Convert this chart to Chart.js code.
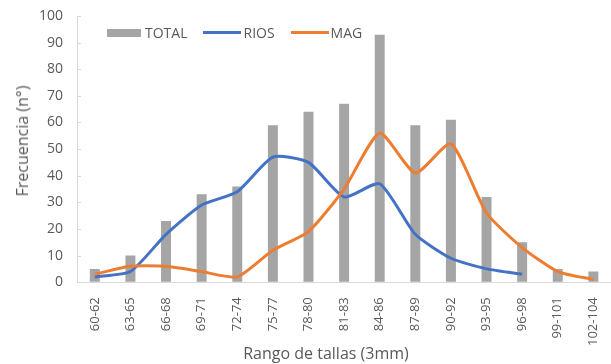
<!DOCTYPE html>
<html>
<head>
<meta charset="utf-8">
<script src="https://cdn.jsdelivr.net/npm/chart.js@4/dist/chart.umd.min.js"></script>
<style>
html,body{margin:0;padding:0;background:#fff;overflow:hidden;width:611px;height:364px;}
#wrap{position:relative;width:624px;height:364px;font-family:"Open Sans",sans-serif;color:#595959;}
#legend{position:absolute;left:107px;top:23px;font-size:14px;display:flex;align-items:center;white-space:nowrap;}
.item{display:flex;align-items:center;margin-right:16px;}
.sw{display:inline-block;width:38px;margin-right:2px;}
#xtitle{position:absolute;left:326px;top:353px;transform:translate(-50%,-50%);font-size:16px;white-space:nowrap;}
#ytitle{position:absolute;left:22px;top:141px;transform:translate(-50%,-50%) rotate(-90deg);font-size:16px;white-space:nowrap;}
</style>
</head>
<body>
<div id="wrap">
<canvas id="c" width="624" height="364"></canvas>
<div id="legend">
  <span class="item"><span class="sw" style="width:34px;margin-right:4px;height:8px;background:#a5a5a5"></span>TOTAL</span>
  <span class="item"><span class="sw" style="height:3px;background:#4472c4"></span>RIOS</span>
  <span class="item"><span class="sw" style="height:3px;background:#ed7d31"></span>MAG</span>
</div>
<div id="xtitle">Rango de tallas (3mm)</div>
<div id="ytitle">Frecuencia (n°)</div>
</div>
<script>
const categories = ["60-62","63-65","66-68","69-71","72-74","75-77","78-80","81-83","84-86","87-89","90-92","93-95","96-98","99-101","102-104"];
const totalValues = [5,10,23,33,36,59,64,67,93,59,61,32,15,5,4];
const riosValues = [2,4,18,29,34,47,45,32,37,18,9,5,3,null,null];
const magValues = [3,6,6,4,2,12,19,35,56,41,52,26,13,4,1];
const yTicks = [0,10,20,30,40,50,60,70,80,90,100];

const tickFont = {family:'"Open Sans", sans-serif', size:13};
const yFont = {family:'"Open Sans", sans-serif', size:14};

const innerTicks = {
  id:'innerTicks',
  afterDatasetsDraw(chart){
    const y = chart.scales.y, ctx = chart.ctx, x0 = chart.chartArea.left;
    ctx.save();
    ctx.strokeStyle = '#d9d9d9'; ctx.lineWidth = 1;
    y.ticks.forEach(t=>{
      const py = Math.round(y.getPixelForValue(t.value)) + 0.5;
      ctx.beginPath(); ctx.moveTo(x0, py); ctx.lineTo(x0 + 4, py); ctx.stroke();
    });
    ctx.restore();
  }
};

new Chart(document.getElementById('c'), {
  type:'bar',
  data:{
    labels:categories,
    datasets:[
      {type:'line',label:'MAG',data:magValues,borderColor:'#ed7d31',borderWidth:3,pointRadius:0,tension:0.2,order:1,fill:false},
      {type:'line',label:'RIOS',data:riosValues,borderColor:'#4472c4',borderWidth:3,pointRadius:0,tension:0.2,order:2,fill:false,spanGaps:false},
      {type:'bar',label:'TOTAL',data:totalValues,backgroundColor:'#a5a5a5',barPercentage:0.28,categoryPercentage:1,order:3}
    ]
  },
  options:{
    responsive:false,
    animation:false,
    layout:{padding:{left:25,right:1,top:16,bottom:19}},
    plugins:{legend:{display:false},tooltip:{enabled:false}},
    scales:{
      x:{
        afterFit:(s)=>{s.height -= 16;},
        grid:{display:false,drawTicks:false},
        border:{display:true,color:'#d9d9d9',width:1},
        ticks:{color:'#595959',font:tickFont,minRotation:90,maxRotation:90,padding:15,autoSkip:false}
      },
      y:{
        min:0,max:100,
        afterFit:(s)=>{s.paddingTop=0;s.paddingBottom=0;},
        afterBuildTicks:(s)=>{s.ticks=yTicks.map(v=>({value:v}));},
        grid:{drawOnChartArea:false,drawTicks:false},
        border:{display:true,color:'#d9d9d9',width:1},
        ticks:{color:'#595959',font:yFont,padding:14}
      }
    }
  },
  plugins:[innerTicks]
});
</script>
</body>
</html>
